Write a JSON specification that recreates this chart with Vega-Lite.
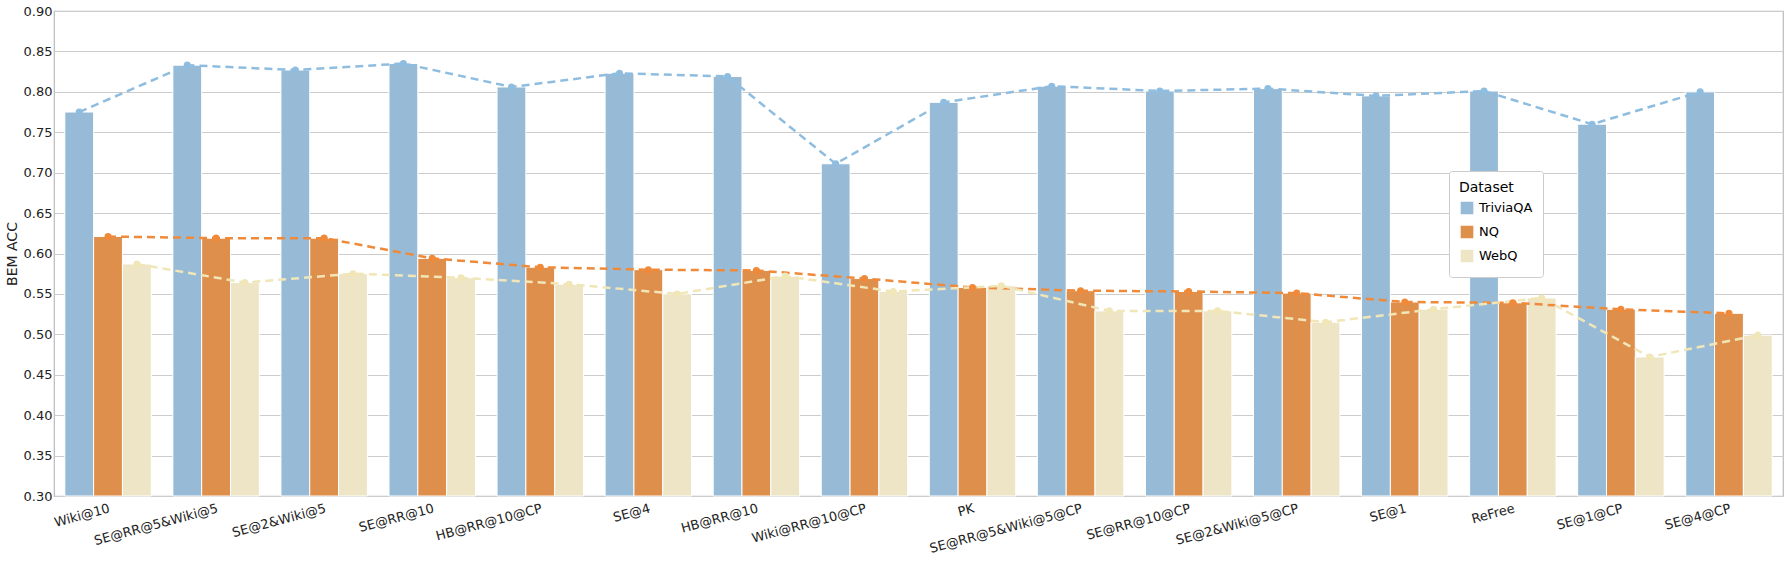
{
  "$schema": "https://vega.github.io/schema/vega-lite/v6.json",
  "width": 1788,
  "height": 561,
  "autosize": {"type": "fit", "contains": "padding"},
  "background": "white",
  "data": {
    "values": [
      {"m": "Wiki@10", "d": "TriviaQA", "v": 0.775}, {"m": "Wiki@10", "d": "NQ", "v": 0.621}, {"m": "Wiki@10", "d": "WebQ", "v": 0.587},
      {"m": "SE@RR@5&Wiki@5", "d": "TriviaQA", "v": 0.833}, {"m": "SE@RR@5&Wiki@5", "d": "NQ", "v": 0.619}, {"m": "SE@RR@5&Wiki@5", "d": "WebQ", "v": 0.564},
      {"m": "SE@2&Wiki@5", "d": "TriviaQA", "v": 0.827}, {"m": "SE@2&Wiki@5", "d": "NQ", "v": 0.619}, {"m": "SE@2&Wiki@5", "d": "WebQ", "v": 0.575},
      {"m": "SE@RR@10", "d": "TriviaQA", "v": 0.835}, {"m": "SE@RR@10", "d": "NQ", "v": 0.594}, {"m": "SE@RR@10", "d": "WebQ", "v": 0.570},
      {"m": "HB@RR@10@CP", "d": "TriviaQA", "v": 0.806}, {"m": "HB@RR@10@CP", "d": "NQ", "v": 0.583}, {"m": "HB@RR@10@CP", "d": "WebQ", "v": 0.562},
      {"m": "SE@4", "d": "TriviaQA", "v": 0.823}, {"m": "SE@4", "d": "NQ", "v": 0.580}, {"m": "SE@4", "d": "WebQ", "v": 0.550},
      {"m": "HB@RR@10", "d": "TriviaQA", "v": 0.819}, {"m": "HB@RR@10", "d": "NQ", "v": 0.579}, {"m": "HB@RR@10", "d": "WebQ", "v": 0.572},
      {"m": "Wiki@RR@10@CP", "d": "TriviaQA", "v": 0.711}, {"m": "Wiki@RR@10@CP", "d": "NQ", "v": 0.569}, {"m": "Wiki@RR@10@CP", "d": "WebQ", "v": 0.553},
      {"m": "PK", "d": "TriviaQA", "v": 0.787}, {"m": "PK", "d": "NQ", "v": 0.558}, {"m": "PK", "d": "WebQ", "v": 0.560},
      {"m": "SE@RR@5&Wiki@5@CP", "d": "TriviaQA", "v": 0.807}, {"m": "SE@RR@5&Wiki@5@CP", "d": "NQ", "v": 0.554}, {"m": "SE@RR@5&Wiki@5@CP", "d": "WebQ", "v": 0.529},
      {"m": "SE@RR@10@CP", "d": "TriviaQA", "v": 0.801}, {"m": "SE@RR@10@CP", "d": "NQ", "v": 0.553}, {"m": "SE@RR@10@CP", "d": "WebQ", "v": 0.529},
      {"m": "SE@2&Wiki@5@CP", "d": "TriviaQA", "v": 0.804}, {"m": "SE@2&Wiki@5@CP", "d": "NQ", "v": 0.551}, {"m": "SE@2&Wiki@5@CP", "d": "WebQ", "v": 0.515},
      {"m": "SE@1", "d": "TriviaQA", "v": 0.795}, {"m": "SE@1", "d": "NQ", "v": 0.540}, {"m": "SE@1", "d": "WebQ", "v": 0.531},
      {"m": "ReFree", "d": "TriviaQA", "v": 0.801}, {"m": "ReFree", "d": "NQ", "v": 0.539}, {"m": "ReFree", "d": "WebQ", "v": 0.545},
      {"m": "SE@1@CP", "d": "TriviaQA", "v": 0.760}, {"m": "SE@1@CP", "d": "NQ", "v": 0.531}, {"m": "SE@1@CP", "d": "WebQ", "v": 0.472},
      {"m": "SE@4@CP", "d": "TriviaQA", "v": 0.800}, {"m": "SE@4@CP", "d": "NQ", "v": 0.526}, {"m": "SE@4@CP", "d": "WebQ", "v": 0.499}
    ]
  },
  "encoding": {
    "x": {
      "field": "m", "type": "nominal", "sort": null, "title": null,
      "scale": {"paddingInner": 0.2, "paddingOuter": 0.1},
      "axis": {"labelAngle": -15, "labelFontSize": 13, "labelColor": "#222", "ticks": false, "domain": false, "grid": false, "labelPadding": 6}
    },
    "xOffset": {"field": "d", "type": "nominal", "sort": ["TriviaQA", "NQ", "WebQ"]},
    "y": {
      "field": "v", "type": "quantitative", "title": "BEM ACC",
      "scale": {"domain": [0.3, 0.9], "zero": false, "clamp": true},
      "axis": {"values": [0.3,0.35,0.4,0.45,0.5,0.55,0.6,0.65,0.7,0.75,0.8,0.85,0.9], "format": ".2f", "labelFontSize": 13, "titleFontSize": 14, "titleFontWeight": "normal", "ticks": false, "domain": false, "gridColor": "#cccccc", "labelColor": "#222", "titleColor": "#222"}
    },
    "color": {
      "field": "d", "type": "nominal", "title": "Dataset",
      "scale": {"domain": ["TriviaQA", "NQ", "WebQ"], "range": ["#97bbd6", "#df8f4c", "#ede5c5"]},
      "legend": {"orient": "none", "legendX": 1395, "legendY": 160, "titleFontSize": 14, "titleFontWeight": "normal", "labelFontSize": 13, "symbolType": "square", "symbolSize": 200, "strokeColor": "#cccccc", "fillColor": "white", "padding": 10, "cornerRadius": 3}
    }
  },
  "layer": [
    {
      "mark": {"type": "bar", "stroke": "white", "strokeWidth": 1}
    },
    {
      "mark": {"type": "line", "strokeDash": [8, 5], "strokeWidth": 2.5},
      "encoding": {
        "color": {"field": "d", "type": "nominal", "scale": {"domain": ["TriviaQA", "NQ", "WebQ"], "range": ["#8fbde0", "#ef8a3a", "#f0e6b8"]}, "legend": null}
      }
    },
    {
      "mark": {"type": "point", "filled": true, "size": 50, "opacity": 1},
      "encoding": {
        "color": {"field": "d", "type": "nominal", "scale": {"domain": ["TriviaQA", "NQ", "WebQ"], "range": ["#8fbde0", "#ef8a3a", "#f0e6b8"]}, "legend": null}
      }
    }
  ],
  "resolve": {"scale": {"color": "independent"}},
  "config": {
    "font": "DejaVu Sans",
    "view": {"stroke": "#bbbbbb", "strokeWidth": 1.2}
  }
}
